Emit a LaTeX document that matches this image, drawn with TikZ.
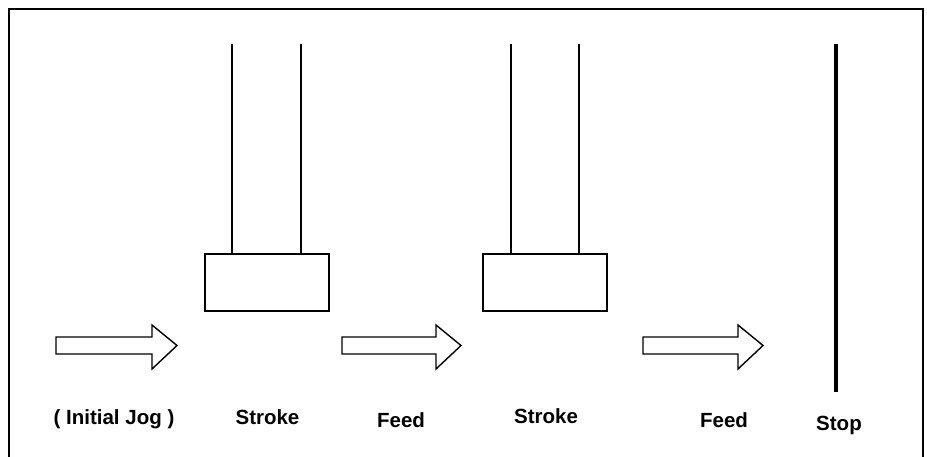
\documentclass[tikz,border=0pt]{standalone}
\usepackage{fontspec}
\setmainfont{Liberation Sans}
\begin{document}
\begin{tikzpicture}[x=1pt,y=-1pt,
  frame/.style={line width=2pt},
  pillar/.style={line width=1.4pt},
  slide/.style={draw, line width=1.4pt, minimum width=124pt, minimum height=57pt, inner sep=0pt},
  blockarrow/.style={draw, line width=1.4pt, line join=miter},
  stopline/.style={line width=3.4pt},
  lbl/.style={font=\bfseries\fontsize{20.5}{23}\selectfont, anchor=base, inner sep=0pt}]
\useasboundingbox (0,0) rectangle (927,457);
% frame
\draw[frame] (9,457) -- (9,9) -- (923,9) -- (923,457);
% slides
\node[slide] (s1) at (267,282.5) {};
\node[slide] (s2) at (545,282.5) {};
\coordinate (s1a) at (232,44);
\coordinate (s1b) at (301,44);
\coordinate (s2a) at (511,44);
\coordinate (s2b) at (579,44);
\draw[pillar] (s1a) -- (s1a |- s1.north);
\draw[pillar] (s1b) -- (s1b |- s1.north);
\draw[pillar] (s2a) -- (s2a |- s2.north);
\draw[pillar] (s2b) -- (s2b |- s2.north);
% stop line
\coordinate (stoptop) at (836,44);
\coordinate (stopbot) at (836,392);
\draw[stopline] (stoptop) -- (stopbot);
% block arrows
\foreach \x/\b/\t in {56/152/177, 342/436/461, 643/738/763}{
  \draw[blockarrow] (\x,337) -- (\b,337) -- (\b,325) -- (\t,345.5) -- (\b,369) -- (\b,354) -- (\x,354) -- cycle;
}
% labels
\node[lbl] (l1) at (114,424) {( Initial Jog )};
\node[lbl] (l2) at (267.5,424) {Stroke};
\node[lbl] (l3) at (401,427) {Feed};
\node[lbl] (l4) at (546,423) {Stroke};
\node[lbl] (l5) at (724,427) {Feed};
\node[lbl] (l6) at (839,430) {Stop};
\end{tikzpicture}
\end{document}
